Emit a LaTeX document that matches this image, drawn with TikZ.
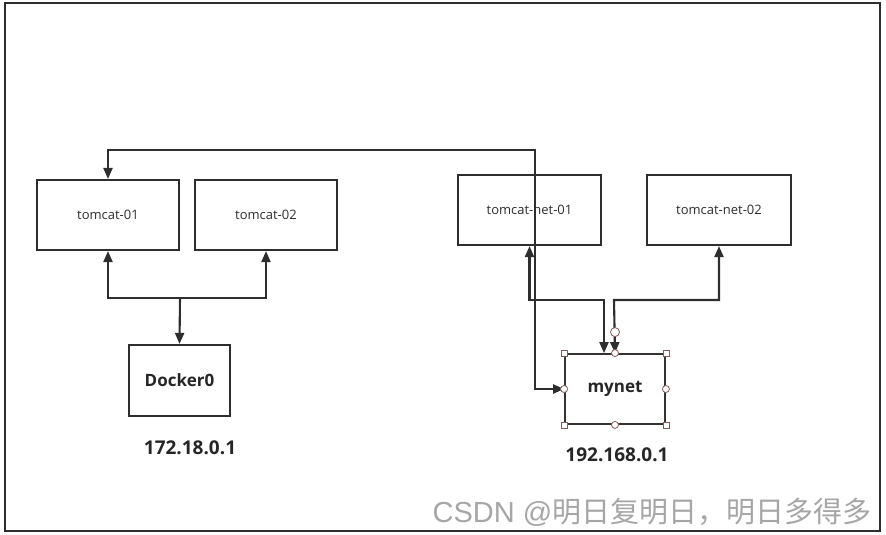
\documentclass[tikz,border=0pt]{standalone}
\usepackage{fontspec}
\setmainfont{Open Sans}
\newfontfamily\cjk{Noto Sans CJK SC}
\newfontfamily\arialfont{Liberation Sans}
\usetikzlibrary{arrows.meta,positioning,calc}
\definecolor{ln}{HTML}{2E2E2E}
\definecolor{hd}{HTML}{8A5A5A}
\definecolor{wm}{HTML}{A6A6A6}
\tikzset{
  box/.style={draw=ln,line width=2.1pt,fill=white,inner sep=0pt,font=\fontsize{13}{15}\selectfont,text=ln},
  bbox/.style={box,font=\bfseries\fontsize{17}{20}\selectfont,text=black!85},
  tip/.tip={Triangle[length=11pt,width=9pt]},
  conn/.style={draw=ln,line width=2.1pt,tip-tip},
  conne/.style={draw=ln,line width=2.1pt,-tip},
  ip/.style={font=\bfseries\fontsize{19}{22}\selectfont,text=black!85},
  hsq/.style={draw=hd,fill=white,line width=0.8pt,minimum size=6pt,inner sep=0pt,rectangle},
  hci/.style={draw=hd,fill=white,line width=0.8pt,minimum size=7pt,inner sep=0pt,circle},
}
\begin{document}
\begin{tikzpicture}[x=1pt,y=-1pt]
\useasboundingbox (0,0) rectangle (886,535);
\draw[ln,line width=2.2pt] (5,3) rectangle (880,531);
% nodes
\node[box,minimum width=142pt,minimum height=70pt] (t1) at (108,215) {tomcat-01};
\node[box,minimum width=142pt,minimum height=70pt] (t2) at (266,215) {tomcat-02};
\node[bbox,minimum width=101pt,minimum height=71pt] (d0) at (179.5,380.5) {Docker0};
\node[box,minimum width=143pt,minimum height=70pt] (n1) at (529.5,210) {tomcat-net-01};
\node[box,minimum width=144pt,minimum height=70pt] (n2) at (719,210) {tomcat-net-02};
\node[bbox,minimum width=100pt,minimum height=70pt,draw=ln!90!hd,line width=1.8pt] (mn) at (615,389) {mynet};
\node[ip] (ip1) at (190,448) {172.18.0.1};
\node[ip] (ip2) at (617,455) {192.168.0.1};
% coordinates
\coordinate (j1) at (180,298);
\coordinate (top) at (535,150);
\coordinate (j2) at (604,300);
\coordinate (j3) at (614,300);
% connectors
\draw[conn] (t1.south) |- (j1) -| (t2.south);
\draw[conne] (j1) -- (d0.north);
\draw[conn] (t1.north) |- (top) |- (mn.west);
\draw[conn] (n1.south) |- (j2) -- (j2 |- mn.north);
\draw[conn] (n2.south) |- (j3) -- (mn.north);
% selection handles
\foreach \a in {north west,north east,south west,south east}
  \node[hsq] at (mn.\a) {};
\foreach \a in {north,south,east,west}
  \node[hci] at (mn.\a) {};
\node[hci,minimum size=9pt] (rot) at ($(mn.north)+(0,-21)$) {};
% watermark
\node[text=wm,font=\fontsize{29}{32}\selectfont] (wmk) at (652,512) {\arialfont CSDN @\cjk 明日复明日，明日多得多};
\end{tikzpicture}
\end{document}
